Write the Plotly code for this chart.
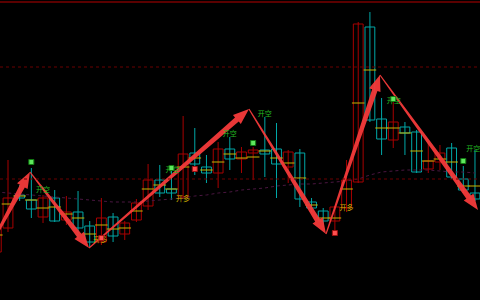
import plotly.graph_objects as go
import math

# ---- data ----
idx = list(range(-1, 41))
opens  = [48, 72,105,100, 83,102, 80, 88, 74, 58, 83, 66, 80, 94,120,111,103,147,133,127,151,141,147,150,151,133,147, 98, 89, 79, 92,118,273,181,160,173,168,131,138,152,121,107]
highs  = [75,140,115,132,105,110,104,109, 79,102, 87, 79,101,136,135,132,184,172,145,158,163,153,153,183,177,150,151,102, 92, 94,140,278,288,202,200,178,170,157,155,157,134,150]
lows   = [42, 68, 99, 82, 77, 78, 75, 61, 53, 55, 58, 60, 78, 90,103,100,101,125,117,112,130,127,120,123,102,117, 93, 88, 73, 70, 88,117,178,145,152,145,127,127,130,121,107, 99]
closes = [72,102,102, 91,102, 79, 88, 72, 58, 82, 64, 77, 97,120,107,107,146,136,127,151,141,148,150,146,136,148,101, 92, 79, 93,120,276,180,161,178,167,128,139,147,123,110,101]
mids   = [65, 96,104,100, 92, 93, 86, 82, 66, 75, 71, 72, 89,111,115,111,133,142,130,138,146,142,143,149,142,137,122, 95, 82, 82,111,197,230,172,172,167,149,139,141,138,114,114]
ma     = [108,107,106,105,104,103,102,101,100,99,98,98,98,99,100,101,102,104,105,107,108,110,111,112,114,115,116,116,117,118,119,121,125,128,129,130,130,130,129,128,128,127]

levels_dotted = [233, 121]
level_top = 298

pivot_x = [-2.0, 1.88, 6.94, 20.64, 27.24, 31.86, 40.26]
pivot_y = [44, 128, 52, 191, 66, 225, 90]

short_x = [3.0, 14.1, 19.0, 22.0, 33.05, 39.85]
short_y = [110, 130, 166, 186, 199, 151]
long_x = [7.9, 15.0, 29.0]
long_y = [60, 101, 92]

gdot_x = [2, 14, 21, 33, 39]
gdot_y = [138, 132, 157, 201, 139]
rdot_x = [8, 16, 28]
rdot_y = [62, 131, 67]

# ---- layout constants ----
W, H = 480, 300
XMIN, XMAX = -0.685, 40.43
YMIN, YMAX = 0, 300
RED = "#a80000"
CYAN = "#00a8a8"

def to_px(i, p):
    return ((i - XMIN) / (XMAX - XMIN) * W, (YMAX - p) / (YMAX - YMIN) * H)

def to_data(X, Y):
    return (XMIN + X / W * (XMAX - XMIN), YMAX - Y / H * (YMAX - YMIN))

fig = go.Figure()

# candles: wicks first, then hollow bodies
for up, col in [(True, RED), (False, CYAN)]:
    sel = [k for k in range(len(idx)) if (closes[k] > opens[k]) == up]
    wx, wy = [], []
    for k in sel:
        wx += [idx[k], idx[k], None]
        wy += [lows[k], highs[k], None]
    fig.add_trace(go.Scatter(x=wx, y=wy, mode="lines", line=dict(color=col, width=1),
                             hoverinfo="skip", showlegend=False))
    fig.add_trace(go.Bar(
        x=[idx[k] for k in sel],
        base=[min(opens[k], closes[k]) for k in sel],
        y=[max(abs(closes[k] - opens[k]), 0.8) for k in sel],
        width=0.84,
        marker=dict(color="black", line=dict(color=col, width=1)),
        hoverinfo="skip", showlegend=False))

fig.add_trace(go.Scatter(
    x=idx, y=mids, mode="markers",
    marker=dict(symbol="line-ew", size=9, line=dict(color="#c8b400", width=1)),
    hoverinfo="skip", showlegend=False))

fig.add_trace(go.Scatter(
    x=idx, y=ma, mode="lines",
    line=dict(color="#4a1640", width=1, dash="dot"),
    hoverinfo="skip", showlegend=False))

for lv in levels_dotted:
    fig.add_hline(y=lv, line=dict(color="#6a0000", width=1, dash="dot"))
fig.add_hline(y=level_top, line=dict(color="#7a0000", width=1.5))

# tapered arrows between zigzag pivots
for k in range(len(pivot_x) - 1):
    ax, ay = to_px(pivot_x[k], pivot_y[k])
    bx, by = to_px(pivot_x[k + 1], pivot_y[k + 1])
    dx, dy = bx - ax, by - ay
    L = math.hypot(dx, dy)
    ux, uy = dx / L, dy / L
    nx, ny = -uy, ux
    hl, hw, w0, w1 = 16, 6.0, 0.6, 2.8
    cx, cy = bx - ux * hl, by - uy * hl
    pts = [
        (ax + nx * w0, ay + ny * w0),
        (cx + nx * w1, cy + ny * w1),
        (cx + nx * hw, cy + ny * hw),
        (bx, by),
        (cx - nx * hw, cy - ny * hw),
        (cx - nx * w1, cy - ny * w1),
        (ax - nx * w0, ay - ny * w0),
    ]
    dpts = [to_data(X, Y) for X, Y in pts]
    fig.add_trace(go.Scatter(
        x=[p[0] for p in dpts] + [dpts[0][0]],
        y=[p[1] for p in dpts] + [dpts[0][1]],
        mode="lines", fill="toself", fillcolor="rgba(244,58,58,0.95)",
        line=dict(width=0, color="rgba(0,0,0,0)"),
        hoverinfo="skip", showlegend=False))

fig.add_trace(go.Scatter(
    x=short_x, y=short_y, mode="text", text=["开空"] * len(short_x),
    textfont=dict(family="Noto Sans CJK SC", size=7, color="#22b822"),
    hoverinfo="skip", showlegend=False))
fig.add_trace(go.Scatter(
    x=long_x, y=long_y, mode="text", text=["开多"] * len(long_x),
    textfont=dict(family="Noto Sans CJK SC", size=7, color="#d0b000"),
    hoverinfo="skip", showlegend=False))

fig.add_trace(go.Scatter(
    x=gdot_x, y=gdot_y, mode="markers",
    marker=dict(symbol="square", size=5, color="#5ee85e", line=dict(color="#127a12", width=1)),
    hoverinfo="skip", showlegend=False))
fig.add_trace(go.Scatter(
    x=rdot_x, y=rdot_y, mode="markers",
    marker=dict(symbol="square", size=5, color="#ff5050", line=dict(color="#a01010", width=1)),
    hoverinfo="skip", showlegend=False))

fig.update_layout(
    width=W, height=H, margin=dict(l=0, r=0, t=0, b=0),
    paper_bgcolor="black", plot_bgcolor="black",
    barmode="overlay", showlegend=False,
    xaxis=dict(range=[XMIN, XMAX], visible=False, showgrid=False),
    yaxis=dict(range=[YMIN, YMAX], visible=False, showgrid=False),
)

fig.write_html("out.html")
